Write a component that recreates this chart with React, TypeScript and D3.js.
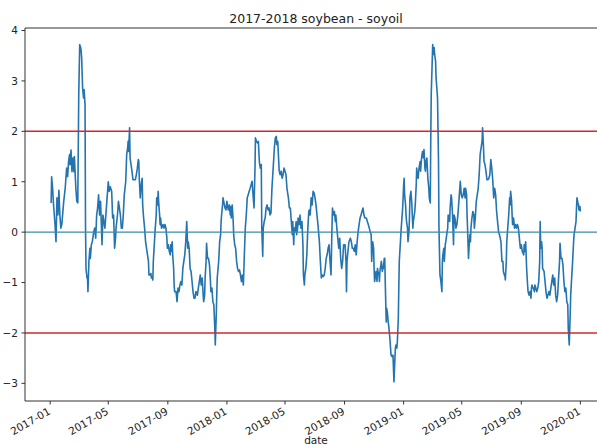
import React from "react";
import * as d3 from "d3";

// Data: day offsets from 2017-01-01 and z-score values
const days17 = [2,3,5,7,10,12,14,16,18,20,22,24,28,31,34,36,38,40,41,43,45,47,49,50,53,55,57,59,61,63,64,65,67,69,70,72,73,74,76,77,78,80,82,83,85,87,90,92,94,96,98,100,102,104,106,107,109,111,113,115,118,120,122,124,127,129,131,133,135,136,139,141,143,145,147,149,151,153,156,158,160,161,162,164,165,167,169,171,173,176,178,180,182,183,184,186,188,190,191,193,195,197,199,201,203,204,206,208,209,211,212,213,215,217,219,220,222,223,224,226,227,228,230,233,235,237,239,241,242,244,246,248,249,250,252,253,255,256,257,260,262,264,266,268,270,272,274,276,278,280,282,284,285,287,289,291,293,295,297,299,301,304,306,308,310,312,314,316,317,319,320,322,323,325,327,329,331,332,334,336,338,340,341,343,344,345,348,350,352,353,354,356,357,359,361,363,365];
const vals17 = [0.58,1.10,0.87,0.54,0.15,-0.19,0.68,0.34,0.83,0.34,0.08,0.15,0.61,0.87,1.27,1.10,1.40,1.54,1.34,1.63,1.20,1.47,1.20,1.50,0.87,0.61,0.58,2.73,3.72,3.66,3.59,3.46,2.86,2.66,2.83,2.53,0.08,-0.72,-0.91,-0.88,-1.18,-0.58,-0.32,-0.52,-0.25,-0.19,0.01,0.08,-0.12,0.34,0.48,0.74,0.34,0.61,0.08,-0.25,0.34,0.21,0.08,0.34,0.74,1.00,0.81,0.90,0.81,0.28,0.34,-0.32,-0.12,0.08,0.34,0.61,0.48,0.34,0.08,0.08,0.34,0.74,1.00,1.54,1.67,1.80,1.60,2.07,1.47,1.34,1.20,1.04,1.04,1.04,1.14,1.27,1.44,1.40,1.07,0.68,0.94,1.07,0.54,0.28,0.08,-0.19,-0.32,-0.45,-0.58,-0.85,-0.85,-0.82,-0.91,-0.88,-0.95,-0.58,-0.25,0.08,0.34,0.68,0.54,0.81,0.61,0.34,0.15,0.28,0.08,0.15,0.08,0.15,0.08,-0.12,-0.32,-0.25,-0.38,-0.45,-0.25,-0.38,-0.19,-0.45,-0.72,-1.05,-1.18,-1.18,-1.38,-1.11,-1.18,-1.05,-0.98,-1.05,-0.72,-0.58,-0.45,-0.19,0.21,-0.32,-0.19,-0.32,-0.72,-0.78,-0.98,-1.18,-1.31,-1.31,-1.18,-1.25,-1.11,-0.98,-0.85,-1.05,-0.91,-1.25,-1.38,-1.25,-0.91,-0.58,-0.22,-0.52,-0.52,-0.65,-0.98,-1.18,-1.11,-1.38,-1.44,-1.91,-2.24,-1.64,-1.25,-0.91,-0.58,-0.19,-0.05,0.21,0.34,0.54,0.68,0.58,0.48,0.44,0.61];

const days18 = [367,368,370,372,373,374,376,378,379,381,383,385,387,389,391,393,395,397,399,401,403,405,407,409,411,413,415,417,419,421,423,424,426,428,430,432,434,436,437,439,440,442,444,446,448,450,452,454,456,458,461,463,465,467,468,470,471,473,475,477,479,481,483,485,487,489,492,494,496,498,500,501,503,504,506,508,509,511,512,514,516,518,520,522,523,525,526,528,530,532,534,535,537,539,541,543,545,547,549,551,553,556,558,560,562,564,566,568,570,572,574,576,578,580,582,583,585,587,589,590,592,594,596,598,600,602,604,606,609,611,612,613,615,617,620,622,624,626,628,630,632,634,636,638,640,642,644,646,648,650,653,655,657,659,661,663,664,666,668,669,670,672,673,675,676,677,679,680,681,683,684,686,687,688,690,691,692,694,695,697,698,699,701,702,704,706,708,710,712,713,714,716,717,719,720,721,723,725,728];
const vals18 = [0.48,0.44,0.54,0.34,0.51,0.28,0.54,0.21,-0.05,-0.25,-0.32,-0.58,-0.72,-0.78,-0.75,-0.85,-0.98,-0.85,-1.05,-0.45,0.08,0.34,0.68,0.74,0.81,0.87,0.94,1.01,0.74,0.48,1.27,1.87,1.80,1.77,1.80,1.40,1.27,1.34,0.08,-0.48,0.08,0.21,0.28,0.48,0.54,0.44,0.48,0.34,0.38,0.87,1.34,1.67,1.87,1.90,1.74,1.80,1.60,1.21,1.14,1.21,1.07,1.14,1.27,1.21,1.14,0.87,0.68,0.48,0.48,0.21,-0.05,0.21,-0.25,0.08,0.01,0.21,-0.05,0.08,0.28,0.15,0.34,0.08,0.21,-0.25,-0.85,-1.05,-0.85,-0.72,-0.45,0.05,0.40,0.44,0.34,0.68,0.54,0.81,0.78,0.68,0.54,0.34,0.15,-0.19,-0.58,-0.91,-0.85,-0.88,-0.85,-0.72,-0.52,-0.45,-0.32,-0.25,-0.58,-0.85,0.08,0.48,0.34,0.41,0.21,0.34,0.08,-0.12,-0.32,-0.12,-0.52,-0.72,-0.58,-0.25,-0.25,-0.58,-1.18,-0.58,-0.38,-0.19,-0.12,-0.19,-0.32,-0.32,-0.38,-0.25,-0.45,-0.19,0.01,0.15,0.28,0.34,0.41,0.48,0.34,0.28,0.28,0.21,0.15,0.08,0.01,-0.05,-0.58,-0.19,-0.32,-0.72,-0.98,-0.85,-0.78,-0.98,-0.72,-0.78,-0.85,-0.98,-0.78,-0.65,-0.58,-0.78,-0.72,-0.72,-0.52,-0.52,-0.98,-1.78,-1.51,-1.64,-1.78,-1.84,-2.04,-2.17,-2.44,-2.47,-2.44,-2.97,-2.50,-2.30,-2.24,-2.30,-2.17,-1.71,-1.11,-0.58,-0.25,0.08,0.48];

const days19 = [730,731,732,734,735,736,738,739,741,742,743,745,746,747,749,750,752,753,754,756,757,758,760,761,763,764,765,767,768,769,771,772,774,775,776,778,779,780,782,783,785,786,787,789,790,791,793,794,796,797,799,800,802,803,805,806,807,809,810,811,813,814,816,817,819,821,822,825,826,828,829,831,833,834,836,838,840,842,845,847,849,851,853,855,857,858,860,861,862,864,865,867,868,869,871,873,875,876,878,880,882,884,886,888,890,892,893,895,896,898,900,902,904,906,908,910,912,914,916,918,920,922,924,926,928,931,933,935,936,938,939,940,942,943,945,947,949,950,951,953,954,955,957,959,961,963,965,967,969,971,973,975,978,979,980,982,983,984,986,987,989,991,993,994,995,997,998,1000,1001,1003,1005,1007,1009,1011,1012,1013,1015,1016,1017,1020,1022,1024,1026,1028,1030,1032,1034,1036,1038,1040,1042,1044,1046,1048,1050,1052,1053,1055,1057,1059,1061,1063,1065,1067,1069,1070,1072,1074,1075,1077,1079,1081,1082,1084,1086,1087,1088,1090,1091,1092,1094,1095];
const vals19 = [0.94,1.07,0.74,0.54,0.34,0.21,0.08,-0.19,0.01,0.28,0.68,0.81,0.68,0.54,0.08,0.21,0.34,0.41,0.54,0.94,1.27,1.14,1.07,1.21,1.34,1.40,1.21,1.47,1.54,1.60,1.47,1.64,1.27,1.21,1.40,1.47,1.27,1.07,0.87,0.68,0.58,1.80,2.73,3.39,3.72,3.52,3.66,3.52,3.39,3.06,2.80,2.66,1.40,0.08,-0.85,-0.91,-0.98,-1.18,-0.58,-0.45,-0.32,-0.58,-0.25,-0.19,-0.05,0.08,0.34,0.21,0.48,0.74,0.68,0.34,-0.25,0.34,0.28,0.08,0.15,0.34,0.74,1.01,0.74,0.68,0.74,0.87,0.68,0.87,0.74,0.34,0.08,-0.52,-0.32,-0.05,-0.19,0.08,0.28,0.41,0.34,0.08,0.28,0.61,0.74,0.87,1.14,1.54,1.67,1.80,2.07,1.67,1.40,1.34,1.21,1.04,1.04,1.07,1.14,1.44,1.27,1.04,0.68,0.87,0.74,0.41,0.21,0.01,-0.05,-0.19,-0.58,-0.58,-0.78,-0.85,-0.85,-0.95,-0.58,-0.19,0.08,0.34,0.68,0.54,0.81,0.61,0.34,0.15,0.28,0.08,0.15,0.08,0.15,0.08,-0.12,-0.32,-0.25,-0.38,-0.45,-0.25,-0.38,-0.19,-0.45,-0.72,-1.05,-1.18,-1.25,-1.18,-1.31,-1.11,-1.05,-1.11,-1.11,-1.18,-1.05,-1.11,-1.18,-1.11,-0.98,-0.58,0.21,-0.32,-0.19,-0.32,-0.72,-0.78,-0.98,-1.18,-1.31,-1.25,-1.18,-1.25,-1.11,-0.98,-0.85,-1.05,-0.91,-1.25,-1.38,-1.25,-0.91,-0.58,-0.22,-0.52,-0.52,-0.65,-0.98,-1.18,-1.11,-1.38,-1.44,-1.91,-2.24,-1.64,-1.25,-0.91,-0.58,-0.19,-0.05,0.08,0.21,0.48,0.68,0.58,0.54,0.44,0.51,0.41];

const xTickLabels = ["2017-01","2017-05","2017-09","2018-01","2018-05","2018-09","2019-01","2019-05","2019-09","2020-01"];
const yTickValues = [-3, -2, -1, 0, 1, 2, 3, 4];
const thresholds = [2, -2];
const title = "2017-2018 soybean - soyoil";
const xLabel = "date";

const W = 597;
const H = 445;
const left = 25, right = 607, top = 28, bottom = 401;
const FONT = "DejaVu Sans, sans-serif";

const base = Date.UTC(2017, 0, 1);
const toDate = (d: number) => new Date(base + d * 86400000);

export default function App() {
  const days = [...days17, ...days18, ...days19];
  const vals = [...vals17, ...vals18, ...vals19];
  const data = days.map((d, i) => ({ date: toDate(d), v: vals[i] }));

  const x = d3.scaleUtc()
    .domain([new Date(Date.UTC(2016, 10, 10)), new Date(Date.UTC(2020, 1, 25))])
    .range([left, right]);
  const y = d3.scaleLinear().domain([-3.35, 4.05]).range([bottom, top]);

  const line = d3.line<{ date: Date; v: number }>()
    .x((d) => x(d.date))
    .y((d) => y(d.v));

  const parse = d3.utcParse("%Y-%m");

  return (
    <div style={{ position: "absolute", left: 0, top: 0, width: W, height: H, overflow: "hidden", background: "#fff" }}>
      <svg width={W} height={H} style={{ display: "block" }}>
        <defs>
          <clipPath id="plot">
            <rect x={left} y={top} width={right - left} height={bottom - top} />
          </clipPath>
        </defs>
        <rect x={0} y={0} width={W} height={H} fill="#fff" />
        <g clipPath="url(#plot)">
          <path d={line(data) || ""} fill="none" stroke="#2474b0" strokeWidth={1.6} strokeLinejoin="round" />
          {thresholds.map((t) => (
            <line key={t} x1={left} x2={right} y1={y(t)} y2={y(t)} stroke="#d62728" strokeWidth={1.5} />
          ))}
          <line x1={left} x2={right} y1={y(0)} y2={y(0)} stroke="#3a8bab" strokeWidth={1.3} />
        </g>
        {/* spines */}
        <g stroke="#333" strokeWidth={1} fill="none">
          <line x1={left} x2={left} y1={top} y2={bottom} />
          <line x1={left} x2={right} y1={top} y2={top} />
          <line x1={left} x2={right} y1={bottom} y2={bottom} />
          <line x1={right} x2={right} y1={top} y2={bottom} />
        </g>
        {/* y ticks */}
        {yTickValues.map((t) => (
          <g key={t}>
            <line x1={left - 3.5} x2={left} y1={y(t)} y2={y(t)} stroke="#333" strokeWidth={1} />
            <text x={18} y={y(t)} dy="0.36em" textAnchor="end" fontFamily={FONT} fontSize={10.5} fill="#222">
              {t < 0 ? "\u2212" + Math.abs(t) : String(t)}
            </text>
          </g>
        ))}
        {/* x ticks */}
        {xTickLabels.map((lab) => {
          const px = x(parse(lab) as Date);
          return (
            <g key={lab}>
              <line x1={px} x2={px} y1={bottom} y2={bottom + 3.5} stroke="#333" strokeWidth={1} />
              <text
                transform={`translate(${px + 1},${bottom + 12.5}) rotate(-30)`}
                textAnchor="end"
                fontFamily={FONT}
                fontSize={10.5}
                fill="#222"
              >
                {lab}
              </text>
            </g>
          );
        })}
        <text x={(left + right) / 2} y={22.5} textAnchor="middle" fontFamily={FONT} fontSize={12.5} fill="#222">
          {title}
        </text>
        <text x={(left + right) / 2} y={444} textAnchor="middle" fontFamily={FONT} fontSize={10.5} fill="#222">
          {xLabel}
        </text>
      </svg>
    </div>
  );
}
